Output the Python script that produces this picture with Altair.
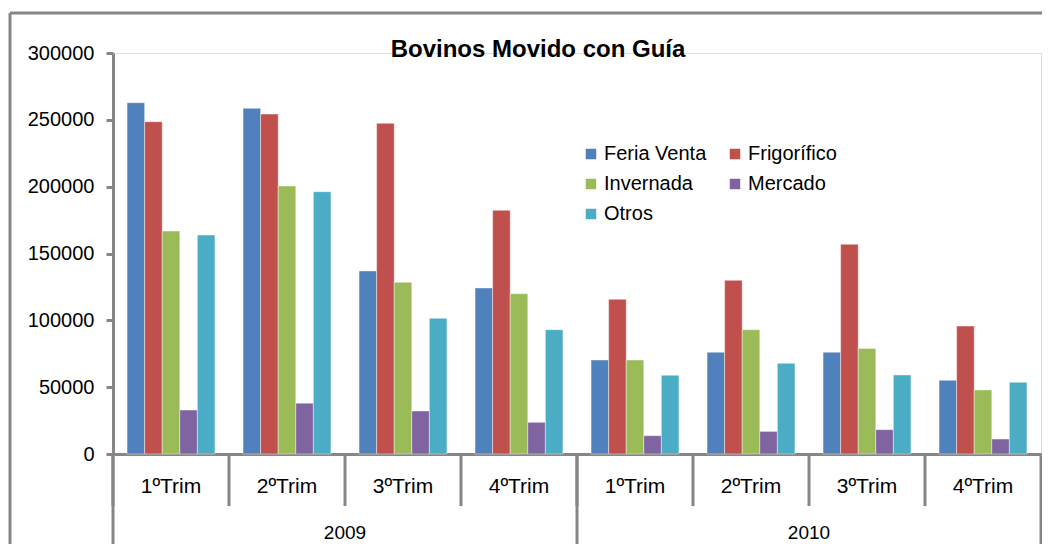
import altair as alt
import pandas as pd

years = ["2009", "2009", "2009", "2009", "2010", "2010", "2010", "2010"]
quarters = ["1ºTrim", "2ºTrim", "3ºTrim", "4ºTrim", "1ºTrim", "2ºTrim", "3ºTrim", "4ºTrim"]
series = ["Feria Venta", "Frigorífico", "Invernada", "Mercado", "Otros"]
colors = ["#4F81BD", "#C0504D", "#9BBB59", "#8064A2", "#4BACC6"]

feria_venta = [262800, 258600, 136900, 124200, 70300, 76100, 76100, 55100]
frigorifico = [248600, 254300, 247400, 182300, 115700, 129900, 156900, 95700]
invernada = [166800, 200500, 128400, 119900, 70300, 93000, 79000, 47900]
mercado = [32900, 38000, 32200, 23700, 13700, 16900, 18200, 11200]
otros = [163800, 196200, 101500, 93000, 58900, 67800, 59100, 53600]

y_ticks = [0, 50000, 100000, 150000, 200000, 250000, 300000]

FONT = "Liberation Sans"
GRAY = "#868686"

cats = [f"{y}|{q}" for y, q in zip(years, quarters)]
values = [feria_venta, frigorifico, invernada, mercado, otros]

rows = []
for s, vals in zip(series, values):
    for c, v in zip(cats, vals):
        rows.append({"cat": c, "serie": s, "valor": v})
df = pd.DataFrame(rows)

xscale = alt.Scale(domain=cats, paddingInner=0, paddingOuter=0)

bars = alt.Chart(df).mark_bar(stroke="white", strokeWidth=0.6, strokeOpacity=0.7).encode(
    x=alt.X("cat:N", scale=xscale,
            axis=alt.Axis(labels=False, ticks=False, title=None, domainColor=GRAY, domainWidth=3)),
    xOffset=alt.XOffset("serie:N", sort=series, scale=alt.Scale(domain=series, paddingInner=0, paddingOuter=0.8)),
    y=alt.Y("valor:Q", scale=alt.Scale(domain=[0, 300000]),
            axis=alt.Axis(values=y_ticks, format="d", title=None, grid=False,
                          domainColor=GRAY, domainWidth=3, tickColor=GRAY, tickWidth=3,
                          tickSize=7, labelFontSize=20, labelFont=FONT, labelColor="black",
                          labelPadding=12)),
    color=alt.Color("serie:N", sort=series, scale=alt.Scale(domain=series, range=colors),
                    legend=alt.Legend(title=None, orient="none", legendX=468, legendY=91,
                                      columns=2, direction="horizontal", symbolType="square",
                                      symbolSize=110, symbolStrokeWidth=0, labelFontSize=20,
                                      labelFont=FONT, labelColor="black", columnPadding=18,
                                      rowPadding=10, labelOffset=3, padding=0)),
)

qdf = pd.DataFrame({"cat": cats, "label": quarters})
qlabels = alt.Chart(qdf).mark_text(fontSize=21, font=FONT, color="black", baseline="middle").encode(
    x=alt.X("cat:N", scale=xscale),
    y=alt.value(434),
    text="label:N",
)

ydf = pd.DataFrame({"cat": [cats[2], cats[6]], "label": ["2009", "2010"]})
ylabels = alt.Chart(ydf).mark_text(fontSize=19, font=FONT, color="black", baseline="middle").encode(
    x=alt.X("cat:N", scale=xscale, bandPosition=0),
    y=alt.value(480),
    text="label:N",
)

sep_short = alt.Chart(pd.DataFrame({"cat": cats})).mark_rule(color=GRAY, strokeWidth=3).encode(
    x=alt.X("cat:N", scale=xscale, bandPosition=0),
    y=alt.value(401),
    y2=alt.value(453),
)
sep_long = alt.Chart(pd.DataFrame({"cat": [cats[0], cats[4]]})).mark_rule(color=GRAY, strokeWidth=3).encode(
    x=alt.X("cat:N", scale=xscale, bandPosition=0),
    y=alt.value(401),
    y2=alt.value(520),
)
sep_end = alt.Chart(pd.DataFrame({"cat": [cats[7]]})).mark_rule(color=GRAY, strokeWidth=3).encode(
    x=alt.X("cat:N", scale=xscale, bandPosition=1),
    y=alt.value(401),
    y2=alt.value(520),
)

frame_df = pd.DataFrame({"k": [0]})
frame_left = alt.Chart(frame_df).mark_rule(color=GRAY, strokeWidth=3).encode(
    x=alt.value(-103), y=alt.value(-40), y2=alt.value(520)
)
frame_top = alt.Chart(frame_df).mark_rule(color=GRAY, strokeWidth=3).encode(
    x=alt.value(-103), x2=alt.value(1000), y=alt.value(-40)
)

chart = alt.layer(
    frame_left, frame_top, bars, sep_short, sep_long, sep_end, qlabels, ylabels
).properties(
    width=928,
    height=401,
    title=alt.TitleParams("Bovinos Movido con Guía", fontSize=24, font=FONT, fontWeight="bold",
                          color="black", anchor="middle", dx=-39, offset=-50),
    padding={"left": 105, "top": 45, "right": 1, "bottom": 90},
    autosize=alt.AutoSizeParams(type="none"),
).configure_view(stroke=None).configure(background="white")

chart.save("out.html", embed_options={"renderer": "svg", "actions": False})
